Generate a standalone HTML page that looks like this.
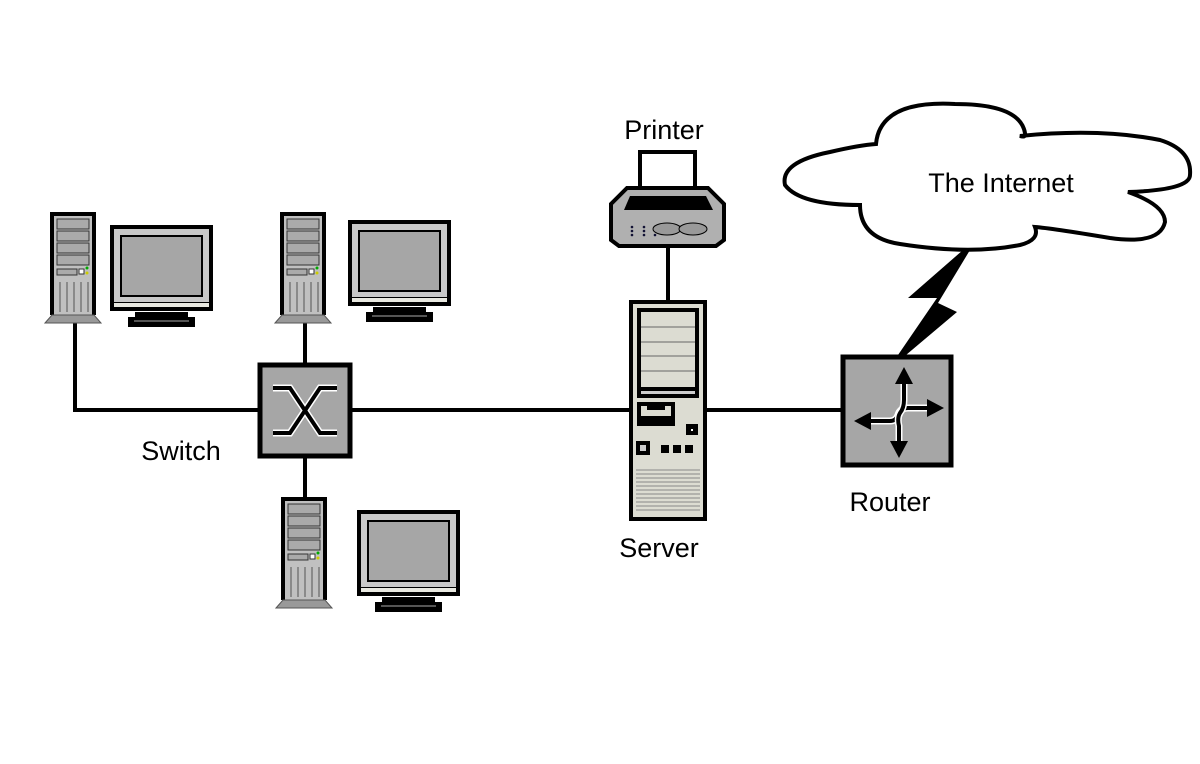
<!DOCTYPE html>
<html><head><style>html,body{margin:0;padding:0;background:#fff}svg{display:block}</style></head>
<body>
<svg width="1200" height="764" viewBox="0 0 1200 764" xmlns="http://www.w3.org/2000/svg" font-family="Liberation Sans, sans-serif">
<defs>
<g id="tower">
  <rect x="0" y="0" width="46" height="103" fill="#000"/>
  <rect x="4" y="4" width="38" height="99" fill="#c0c0c0"/>
  <rect x="7" y="7" width="32" height="10" fill="#aaa" stroke="#333" stroke-width="1"/>
  <rect x="7" y="19" width="32" height="10" fill="#aaa" stroke="#333" stroke-width="1"/>
  <rect x="7" y="31" width="32" height="10" fill="#aaa" stroke="#333" stroke-width="1"/>
  <rect x="7" y="43" width="32" height="10" fill="#aaa" stroke="#333" stroke-width="1"/>
  <rect x="7" y="57" width="20" height="6" fill="#aaa" stroke="#333" stroke-width="1"/>
  <rect x="29" y="57" width="5" height="5" fill="#fff" stroke="#333" stroke-width="1"/>
  <circle cx="37" cy="56" r="1.5" fill="#0a0"/><circle cx="37" cy="61" r="1.5" fill="#cc0"/>
  <path d="M10 70v30M17 70v30M24 70v30M31 70v30M38 70v30" stroke="#555" stroke-width="1"/>
  <polygon points="-5,111 2,103 44,103 51,111" fill="#999" stroke="#555" stroke-width="1"/>
</g>
<g id="mon">
  <rect x="0" y="0" width="103" height="86" fill="#000"/>
  <rect x="4" y="4" width="95" height="73" fill="#c8c8c8"/>
  <rect x="10" y="10" width="83" height="62" fill="#000"/>
  <rect x="12" y="12" width="79" height="58" fill="#a6a6a6"/>
  <rect x="4" y="78" width="95" height="4" fill="#e8e8e0"/>
  <rect x="25" y="87" width="53" height="6" fill="#000"/>
  <rect x="18" y="92" width="67" height="10" fill="#000"/>
  <rect x="24" y="95" width="55" height="2" fill="#555"/>
</g>
</defs>
<g stroke="#000" stroke-width="4" fill="none">
  <path d="M75 323V410H840"/>
  <path d="M305 323V363M305 458V497M668 245V302"/>
</g>
<use href="#tower" x="50" y="212"/>
<use href="#mon" x="110" y="225"/>
<use href="#tower" x="280" y="212"/>
<use href="#mon" x="348" y="220"/>
<use href="#tower" x="281" y="497"/>
<use href="#mon" x="357" y="510"/>
<!-- switch -->
<rect x="260" y="365" width="90" height="91" fill="#a6a6a6" stroke="#000" stroke-width="5"/>
<path d="M273 388H290L320 433H337M273 433H290L320 388H337" stroke="#fff" stroke-width="7" fill="none"/>
<path d="M273 388H290L320 433H337M273 433H290L320 388H337" stroke="#000" stroke-width="4" fill="none"/>
<!-- printer -->
<rect x="640" y="152" width="55" height="46" fill="#fff" stroke="#000" stroke-width="4"/>
<polygon points="627,188 708,188 724,204 724,240 716,246 619,246 611,240 611,204" fill="#b0b0b0" stroke="#000" stroke-width="4"/>
<polygon points="630,196 706,196 713,210 624,210" fill="#000"/>
<ellipse cx="667" cy="229" rx="14" ry="6" fill="#999" stroke="#000" stroke-width="1"/>
<ellipse cx="693" cy="229" rx="14" ry="6" fill="#999" stroke="#000" stroke-width="1"/>
<g fill="#113"><circle cx="632" cy="227" r="1.3"/><circle cx="632" cy="231" r="1.3"/><circle cx="632" cy="235" r="1.3"/><circle cx="644" cy="227" r="1.3"/><circle cx="644" cy="231" r="1.3"/><circle cx="644" cy="235" r="1.3"/><circle cx="655" cy="235" r="1.3"/></g>
<!-- server -->
<rect x="631" y="302" width="74" height="217" fill="#dcdcd2" stroke="#000" stroke-width="4"/>
<rect x="637" y="308" width="62" height="90" fill="#000"/>
<rect x="641" y="312" width="54" height="75" fill="#dcdcd2"/>
<path d="M641 327H695M641 342H695M641 356H695M641 371H695" stroke="#666" stroke-width="1"/>
<rect x="641" y="391" width="54" height="3" fill="#ccc"/>
<rect x="637" y="402" width="38" height="24" fill="#000"/>
<rect x="641" y="406" width="30" height="10" fill="#dcdcd2"/>
<rect x="647" y="406" width="18" height="4" fill="#000"/>
<rect x="686" y="424" width="12" height="11" fill="#000"/><rect x="691" y="429" width="2" height="2" fill="#fff"/>
<rect x="636" y="441" width="14" height="14" fill="#000"/><rect x="640" y="445" width="6" height="6" fill="#ccc"/>
<rect x="661" y="445" width="8" height="8" fill="#000"/><rect x="673" y="445" width="8" height="8" fill="#000"/><rect x="685" y="445" width="8" height="8" fill="#000"/>
<path d="M636 470H700M636 474H700M636 478H700M636 482H700M636 486H700M636 490H700M636 494H700M636 498H700M636 502H700M636 506H700M636 510H700" stroke="#888" stroke-width="1"/>
<!-- line server-router -->
<path d="M705 410H842" stroke="#000" stroke-width="4"/>
<!-- router -->
<rect x="843" y="357" width="108" height="108" fill="#a6a6a6" stroke="#000" stroke-width="5"/>
<g fill="none" stroke-linecap="butt">
  <path d="M870 421H890Q896 421 898 415Q900 408 908 408H930" stroke="#fff" stroke-width="7"/>
  <path d="M870 421H890Q896 421 898 415Q900 408 908 408H930" stroke="#000" stroke-width="4"/>
  <path d="M904 380V400Q904 408 900 413Q897 418 899 426V445" stroke="#fff" stroke-width="7"/>
  <path d="M904 380V400Q904 408 900 413Q897 418 899 426V445" stroke="#000" stroke-width="4"/>
</g>
<polygon points="904,367 895,384 913,384" fill="#000"/>
<polygon points="944,408 927,399 927,417" fill="#000"/>
<polygon points="854,421 871,412 871,430" fill="#000"/>
<polygon points="899,458 890,441 908,441" fill="#000"/>
<!-- lightning -->
<polygon points="970,250 963,250 908,298 937,298 898,355 906,355 957,312 938,303" fill="#000"/>
<!-- cloud -->
<path d="M876 144Q880 100 955 104Q1020 104 1025 133Q1026 138 1020 136Q1100 128 1160 140Q1192 150 1190 175Q1190 190 1128 192Q1165 205 1165 222Q1160 245 1110 238Q1050 228 1035 227Q1040 240 1020 245Q970 255 900 244Q860 238 860 205Q800 205 785 185Q780 162 830 152Q860 145 876 144Z" fill="#fff" stroke="#000" stroke-width="4"/>
<g font-size="27" fill="#000" text-anchor="middle">
<text x="664" y="139">Printer</text>
<text x="1001" y="192">The Internet</text>
<text x="181" y="460">Switch</text>
<text x="659" y="557">Server</text>
<text x="890" y="511">Router</text>
</g>
</svg>
</body></html>
